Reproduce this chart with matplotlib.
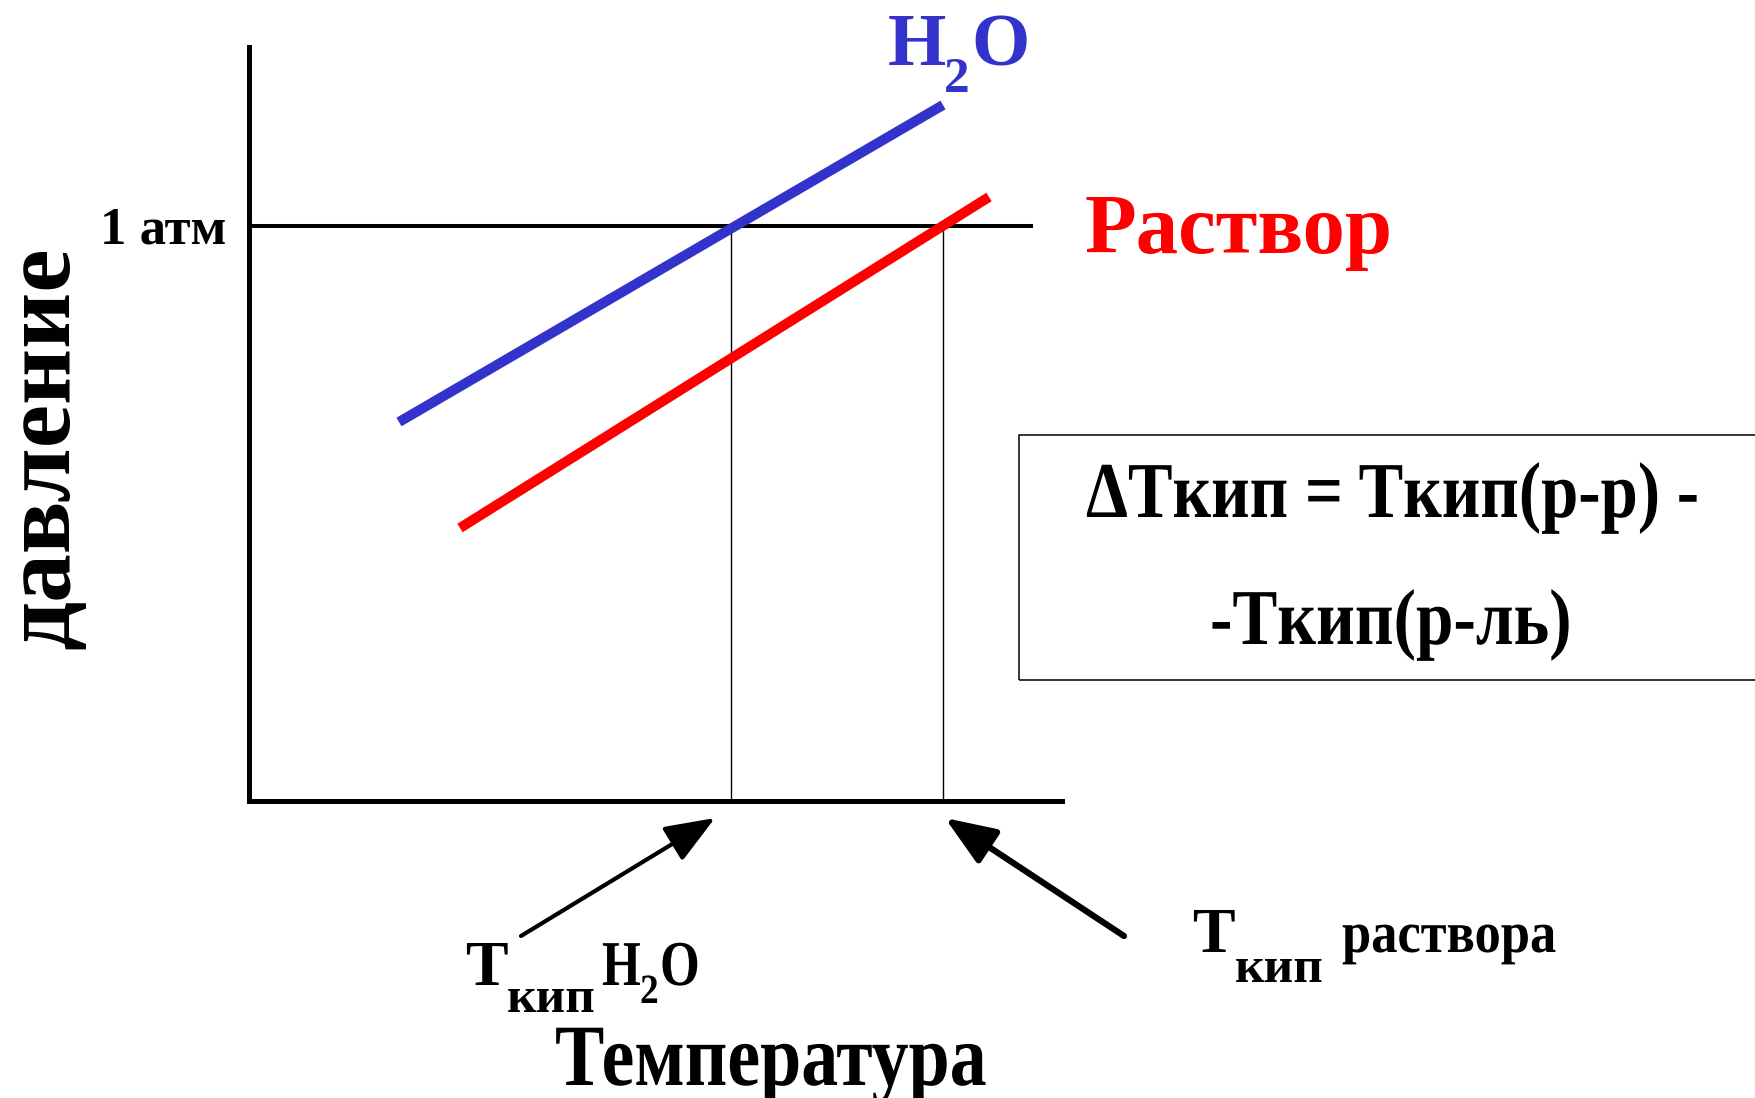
import matplotlib
matplotlib.use("Agg")
import matplotlib.pyplot as plt
import matplotlib.patheffects as pe
from matplotlib.patches import Rectangle
from matplotlib.transforms import Affine2D

plt.rcParams['font.family'] = ['Liberation Serif', 'DejaVu Serif']
plt.rcParams['font.weight'] = 'bold'

# schematic data (arbitrary units: temperature / pressure)
water_T = [150, 694]
water_P = [379, 696]
solution_T = [211, 740]
solution_P = [273, 604]
p_atm = 575
atm_line_T = [0, 784]
T_boil = [482, 694]          # water, solution
arrow_heads = [(466, -17), (696, -17)]
arrow_tails = [(272, -135), (875, -135)]
arrow_widths = [3.0, 4.5]

W, H = 1756, 1098


def fx(px):
    return px / W


def fy(py):
    return 1 - py / H


class Condense(pe.AbstractPathEffect):
    # squeeze glyphs horizontally, like the narrow font of the slide
    def __init__(self, sx):
        super().__init__()
        self.sx = sx

    def draw_path(self, renderer, gc, tpath, affine, rgbFace=None):
        renderer.draw_path(gc, tpath, Affine2D().scale(self.sx, 1) + affine, rgbFace)


def label(px, py, s, size, sx=None, **kw):
    kw.setdefault('ha', 'left')
    kw.setdefault('va', 'baseline')
    if sx is not None:
        kw['path_effects'] = [Condense(sx)]
    return fig.text(fx(px), fy(py), s, fontsize=size, **kw)


fig = plt.figure(figsize=(W / 100, H / 100), dpi=100)
ax = fig.add_axes([fx(249), fy(801), fx(1062) - fx(249), fy(47) - fy(801)])
ax.set_xlim(0, 813)
ax.set_ylim(0, 754)
ax.set_xticks([])
ax.set_yticks([])
for s in ['top', 'right']:
    ax.spines[s].set_visible(False)
for s in ['left', 'bottom']:
    ax.spines[s].set_linewidth(3.6)
    ax.spines[s].set_color('black')

# 1 atm line and boiling points
ax.plot(atm_line_T, [p_atm, p_atm], color='black', lw=2.9, solid_capstyle='butt')
for t in T_boil:
    ax.plot([t, t], [0, p_atm], color='black', lw=1.0)

ax.plot(water_T, water_P, color='#3333CC', lw=7.2, solid_capstyle='butt')
ax.plot(solution_T, solution_P, color='#FF0000', lw=7.2, solid_capstyle='butt')

for head, tail, w in zip(arrow_heads, arrow_tails, arrow_widths):
    ax.annotate('', xy=head, xytext=tail, annotation_clip=False,
                arrowprops=dict(arrowstyle='-|>,head_length=1.4,head_width=0.55',
                                mutation_scale=22, lw=w, color='black',
                                shrinkA=0, shrinkB=0))

# curve labels
blue = '#3333CC'
label(888, 65, 'H', 54, color=blue)
label(944, 92, '2', 37, color=blue)
label(971, 65, 'O', 54, color=blue)
label(1085, 253, 'Раствор', 61, color='#FF0000')

# axis labels
label(226, 243, '1 атм', 38, ha='right')
fig.text(fx(45), fy(448), 'давление', fontsize=70, rotation=90,
         ha='center', va='center')
label(555, 1085, 'Температура', 63, sx=0.845)

# boiling point labels
label(465, 985, 'T', 46)
label(507, 1012, 'кип', 37)
label(602, 985, 'H', 46, sx=0.78)
label(640, 1003, '2', 30, sx=0.9)
label(660, 985, 'O', 46, sx=0.8)

label(1192, 952, 'T', 46)
label(1235, 982, 'кип', 37)
label(1342, 952, 'раствора', 42, sx=0.9)

# formula box
fig.patches.append(Rectangle((fx(1019), fy(680)), fx(1790) - fx(1019), fy(435) - fy(680),
                             transform=fig.transFigure, fill=False,
                             edgecolor='black', lw=1.1))
label(1086, 517, 'ΔTкип = Tкип(р-р) -', 57, sx=0.845)
label(1210, 644, '-Tкип(р-ль)', 57, sx=0.85)

fig.savefig('out.png')
